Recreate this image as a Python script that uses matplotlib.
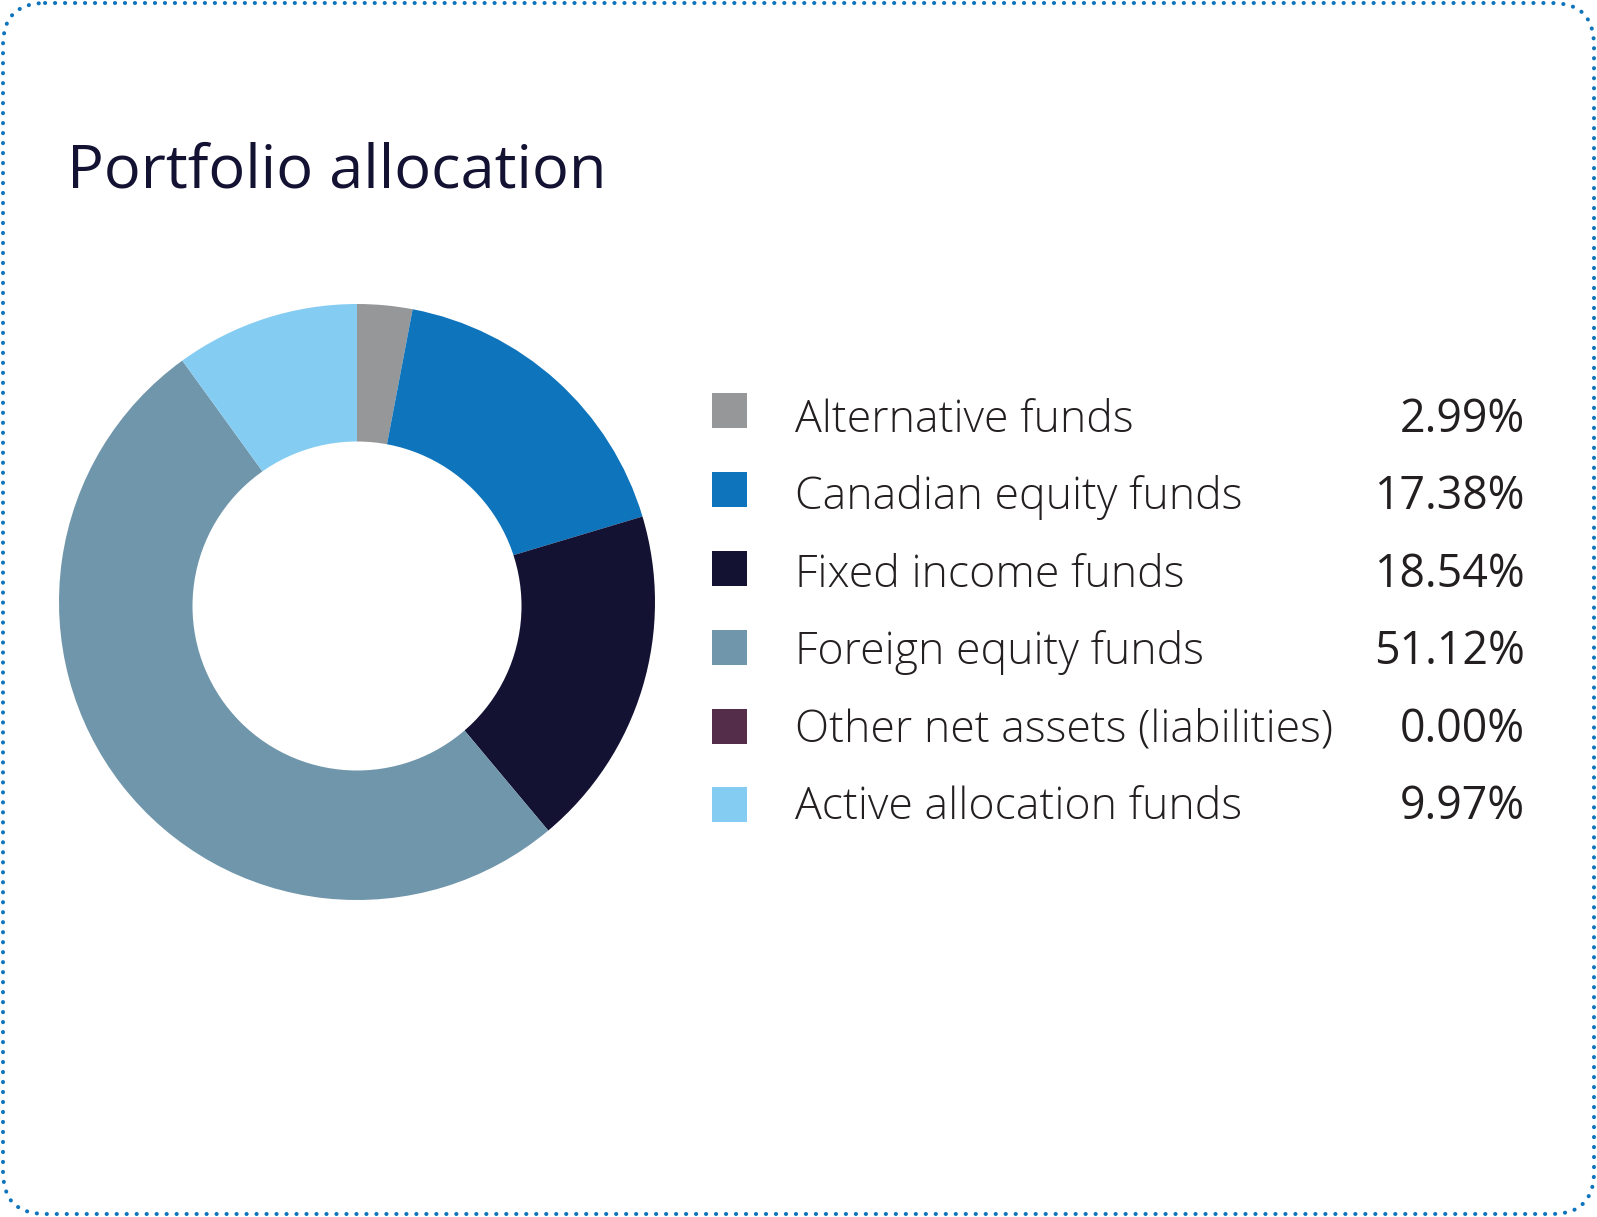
import matplotlib.pyplot as plt
from matplotlib.patches import FancyBboxPatch, Rectangle, Circle

# data
labels = ["Alternative funds", "Canadian equity funds", "Fixed income funds",
          "Foreign equity funds", "Other net assets (liabilities)", "Active allocation funds"]
values = [2.99, 17.38, 18.54, 51.12, 0.00, 9.97]
colors = ["#969799", "#0e74bc", "#131233", "#7096ab", "#532d4a", "#85ccf2"]

W, H = 1597, 1217
plt.rcParams['font.family'] = ['Open Sans', 'DejaVu Sans']

fig = plt.figure(figsize=(W / 100, H / 100), dpi=100)
bg = fig.add_axes([0, 0, 1, 1])
bg.set_xlim(0, W)
bg.set_ylim(H, 0)
bg.axis('off')

# dotted rounded border
border = FancyBboxPatch((3, 3), W - 6, H - 6,
                        boxstyle="round,pad=0,rounding_size=42",
                        fill=False, edgecolor="#0e74bc", linewidth=2.9,
                        linestyle=(0, (0.05, 2.43)), capstyle='round')
bg.add_patch(border)

bg.text(67, 187, "Portfolio allocation", fontsize=44.2, color="#131233",
        ha='left', va='baseline')

# donut (full pie + white hole, hole sits a touch low like the original)
cx, cy, r = 357, 602, 298
pie_ax = fig.add_axes([(cx - r) / W, 1 - (cy + r) / H, 2 * r / W, 2 * r / H])
pie_ax.pie(values, colors=colors, startangle=90, counterclock=False,
           radius=1, wedgeprops=dict(linewidth=0))
pie_ax.add_patch(Circle((0, -4 / r), 164.5 / r, facecolor='white', edgecolor='none'))
pie_ax.set_xlim(-1, 1)
pie_ax.set_ylim(-1, 1)
pie_ax.axis('off')

# legend: swatches and text rows have slightly different spacing
sq_top0, sq_step = 393.3, 78.8
txt_base0, txt_step = 431.7, 77.5
for i, (lab, val, col) in enumerate(zip(labels, values, colors)):
    y = sq_top0 + i * sq_step
    yb = txt_base0 + i * txt_step
    bg.add_patch(Rectangle((712, y), 35, 35, facecolor=col, edgecolor='none'))
    bg.text(795, yb, lab, fontsize=32.1, fontweight='light', color="#231f20",
            ha='left', va='baseline')
    bg.text(1525, yb, f"{val:.2f}%", fontsize=32.1, color="#231f20",
            ha='right', va='baseline')

fig.savefig("out.png", dpi=100, facecolor='white')
